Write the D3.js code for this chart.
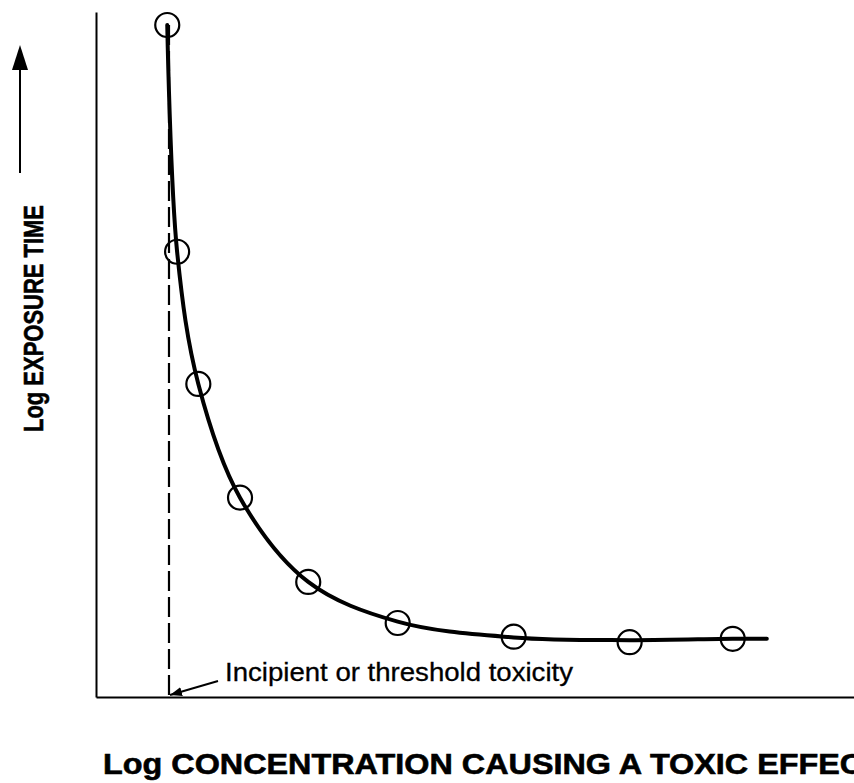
<!DOCTYPE html>
<html>
<head>
<meta charset="utf-8">
<script src="https://cdn.jsdelivr.net/npm/d3@7"></script>
<style>
html,body{margin:0;padding:0;background:#fff;overflow:hidden;}
svg{display:block;}
</style>
</head>
<body>
<svg id="chart" width="854" height="783"></svg>
<script>
// Observed data points (arbitrary log units)
const pointX = [0.94, 1.07, 1.35, 1.90, 2.80, 3.98, 5.51, 7.04, 8.40];
const pointY = [9.81, 6.50, 4.57, 2.91, 1.68, 1.08, 0.88, 0.80, 0.85];
// Fitted curve
const curveX = [0.94, 1.07, 1.35, 1.90, 2.80, 3.98, 5.51, 7.04, 8.40, 8.85];
const curveY = [9.81, 6.50, 4.57, 2.91, 1.68, 1.10, 0.87, 0.83, 0.85, 0.85];
const thresholdX = 0.963;
const xTitle = "Log CONCENTRATION CAUSING A TOXIC EFFECT";
const yTitle = "Log EXPOSURE TIME";
const annotation = "Incipient or threshold toxicity";

const svg = d3.select("#chart");
const x = d3.scaleLinear().domain([0, 10]).range([96, 854]);
const y = d3.scaleLinear().domain([0, 10]).range([697, 12]);

const defs = svg.append("defs");
defs.append("marker").attr("id","ah").attr("viewBox","0 0 10 10")
  .attr("refX",10).attr("refY",5).attr("markerWidth",12).attr("markerHeight",10)
  .attr("preserveAspectRatio","none")
  .attr("markerUnits","userSpaceOnUse").attr("orient","auto")
  .append("path").attr("d","M0,0.5 L10,5 L0,9.5 Z").attr("fill","#000");

// axes (no ticks)
const axX = d3.axisBottom(x).tickValues([]).tickSizeOuter(0);
const axY = d3.axisLeft(y).tickValues([]).tickSizeOuter(0);
svg.append("g").attr("transform",`translate(0,${y(0)})`).call(axX)
  .select(".domain").attr("stroke","#000").attr("stroke-width",2);
svg.append("g").attr("transform",`translate(${x(0)},0)`).call(axY)
  .select(".domain").attr("stroke","#000").attr("stroke-width",2);

// threshold dashed line
svg.append("line")
  .attr("x1", x(thresholdX)).attr("x2", x(thresholdX))
  .attr("y1", y(pointY[0])).attr("y2", y(0))
  .attr("stroke","#000").attr("stroke-width",2.2).attr("stroke-dasharray","20,6");

// curve
const line = d3.line().x(d=>x(d[0])).y(d=>y(d[1])).curve(d3.curveCatmullRom.alpha(0.5));
svg.append("path").datum(curveX.map((v,i)=>[v,curveY[i]]))
  .attr("d", line).attr("fill","none").attr("stroke","#000")
  .attr("stroke-width",4).attr("stroke-linecap","round");

// points
svg.append("g").selectAll("circle").data(pointX.map((v,i)=>[v,pointY[i]])).join("circle")
  .attr("cx", d=>x(d[0])).attr("cy", d=>y(d[1])).attr("r",12)
  .attr("fill","none").attr("stroke","#000").attr("stroke-width",2.2);

// annotation
svg.append("text").attr("x",225).attr("y",681)
  .attr("font-family","Liberation Sans, Arial, sans-serif").attr("font-size",25)
  .attr("textLength",348).attr("lengthAdjust","spacingAndGlyphs")
  .attr("fill","#000").attr("stroke","#000").attr("stroke-width",0.3).text(annotation);
svg.append("line").attr("x1",218).attr("y1",681).attr("x2",x(thresholdX)+1).attr("y2",695)
  .attr("stroke","#000").attr("stroke-width",2).attr("marker-end","url(#ah)");

// x title
svg.append("text").attr("x",103).attr("y",774)
  .attr("font-family","Liberation Sans, Arial, sans-serif").attr("font-weight","bold")
  .attr("font-size",29).attr("textLength",780).attr("lengthAdjust","spacingAndGlyphs")
  .attr("fill","#000").attr("stroke","#000").attr("stroke-width",0.6).text(xTitle);

// y title
svg.append("text").attr("transform","translate(43,432) rotate(-90)")
  .attr("font-family","Liberation Sans, Arial, sans-serif").attr("font-weight","bold")
  .attr("font-size",28).attr("textLength",227).attr("lengthAdjust","spacingAndGlyphs")
  .attr("fill","#000").attr("stroke","#000").attr("stroke-width",0.6).text(yTitle);

// y direction arrow
svg.append("line").attr("x1",20).attr("y1",173).attr("x2",20).attr("y2",66)
  .attr("stroke","#000").attr("stroke-width",2);
svg.append("path").attr("d","M20,45 L28,70 L12,70 Z").attr("fill","#000");
</script>
</body>
</html>
